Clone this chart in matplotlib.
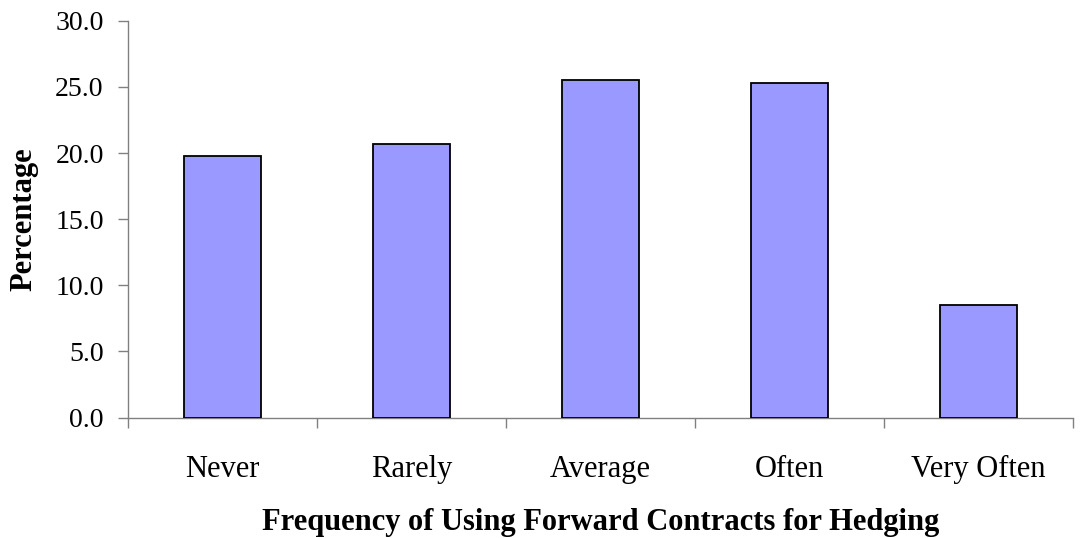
import matplotlib
matplotlib.use("Agg")
import matplotlib.pyplot as plt
import numpy as np

categories = ["Never", "Rarely", "Average", "Often", "Very Often"]
percentages = [19.8, 20.7, 25.5, 25.3, 8.5]
y_ticks = [0, 5, 10, 15, 20, 25, 30]

plt.rcParams["font.family"] = ["Liberation Serif", "DejaVu Serif"]

fig = plt.figure(figsize=(10.82, 5.38), dpi=100)
ax = fig.add_axes([128 / 1082, 1 - 417.6 / 538, (1073 - 128) / 1082, (417.6 - 20.7) / 538])

x = np.arange(len(categories))
ax.bar(x, percentages, width=0.41, color="#9999FF", edgecolor="black", linewidth=1.3, zorder=3)

ax.set_xlim(-0.5, len(categories) - 0.5)
ax.set_ylim(0, 30)
ax.set_yticks(y_ticks)
ax.set_yticklabels([f"{v:.1f}" for v in y_ticks])

ax.set_xticks(x)
ax.set_xticklabels(categories)
ax.set_xticks(np.arange(-0.5, len(categories)), minor=True)
ax.tick_params(axis="x", which="major", length=0, pad=27, labelsize=22)
ax.tick_params(axis="x", which="minor", length=7.5, width=1, color="#808080", direction="out")
ax.tick_params(axis="y", which="major", length=7.5, width=1, color="#808080", pad=10, labelsize=20)

for side in ("top", "right"):
    ax.spines[side].set_visible(False)
for side in ("left", "bottom"):
    ax.spines[side].set_color("#808080")
    ax.spines[side].set_linewidth(1)

ax.set_xlabel("Frequency of Using Forward Contracts for Hedging", fontsize=22, fontweight="bold", labelpad=17)
ax.set_ylabel("Percentage", fontsize=22, fontweight="bold", labelpad=12)

fig.savefig("out.png", dpi=100)
